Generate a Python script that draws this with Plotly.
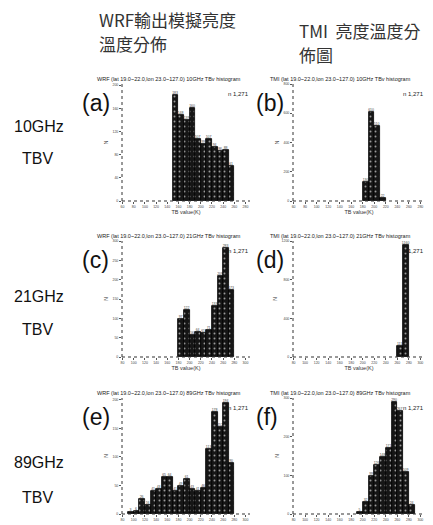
import plotly.graph_objects as go

W, H = 433, 525

# ---- histogram data: bin left edges (K) and pixel counts ----
BIN_WIDTH = 10

wrf10_edges = [150, 160, 170, 180, 190, 200, 210, 220, 230, 240, 250]
wrf10_counts = [183, 148, 139, 160, 107, 99, 107, 94, 86, 88, 61]

tmi10_edges = [180, 190, 200, 210]
tmi10_counts = [130, 610, 510, 22]

wrf21_edges = [180, 190, 200, 210, 220, 230, 240, 250, 260, 270]
wrf21_counts = [97, 122, 56, 64, 61, 71, 133, 209, 283, 173]

tmi21_edges = [260, 270]
tmi21_counts = [111, 1160]

wrf89_edges = [90, 100, 110, 120, 130, 140, 150, 160, 170, 180,
               190, 200, 210, 220, 230, 240, 250, 260, 270]
wrf89_counts = [3, 6, 26, 16, 41, 43, 65, 64, 41, 49,
                61, 43, 41, 46, 113, 178, 152, 194, 90]

tmi89_edges = [190, 200, 210, 220, 230, 240, 250, 260, 270, 280]
tmi89_counts = [5, 32, 99, 126, 148, 171, 290, 267, 109, 24]

sample_size = "n 1,271"
region = "(lat 19.0~22.0,lon 23.0~127.0)"

col_headers = [["WRF輸出模擬亮度", "溫度分佈"], ["TMI  亮度溫度分", "佈圖"]]
row_labels = [("10GHz", "TBV"), ("21GHz", "TBV"), ("89GHz", "TBV")]
bands = ["10GHz", "21GHz", "89GHz"]
letters = [["(a)", "(b)"], ["(c)", "(d)"], ["(e)", "(f)"]]

# per panel: edges, counts, y max, y tick step, x first tick
panels = [
    [(wrf10_edges, wrf10_counts, 202, 40, 60), (tmi10_edges, tmi10_counts, 800, 200, 60)],
    [(wrf21_edges, wrf21_counts, 300, 50, 80), (tmi21_edges, tmi21_counts, 1200, 400, 80)],
    [(wrf89_edges, wrf89_counts, 203, 50, 80), (tmi89_edges, tmi89_counts, 300, 100, 80)],
]

# plot-area geometry in pixels
col_x = [(122, 250), (293, 425)]
row_y = [(84, 201), (241, 357), (398, 514)]
X_STEP = 20
X_SPAN = 11.4

SMALL = "Liberation Sans, Arial, sans-serif"


def fx(px):
    return px / W


def fy(py):
    return 1 - py / H


fig = go.Figure()
annotations = []
shapes = []
layout = {}

k = 0
for r in range(3):
    for c in range(2):
        k += 1
        edges, counts, ymax, ydt, xt0 = panels[r][c]
        xa = "x" if k == 1 else f"x{k}"
        ya = "y" if k == 1 else f"y{k}"
        centers = [e + BIN_WIDTH / 2 for e in edges]
        fig.add_trace(go.Bar(
            x=centers, y=counts, width=BIN_WIDTH,
            xaxis=xa, yaxis=ya,
            marker=dict(
                color="#111111",
                line=dict(color="#000000", width=0.8),
                pattern=dict(shape=".", fgcolor="#9a9a9a", bgcolor="#161616",
                             size=5, solidity=0.12, fillmode="replace"),
            ),
            text=[str(v) for v in counts], textposition="outside",
            textfont=dict(size=3.5, color="#444", family=SMALL),
            cliponaxis=False, constraintext="none",
            showlegend=False, hoverinfo="x+y",
        ))
        x0, x1 = col_x[c]
        y0, y1 = row_y[r]
        # the bottom row's axis title falls below the page edge
        xtitle = "TB value(K)" if r < 2 else ""
        layout[f"xaxis{'' if k == 1 else k}"] = dict(
            domain=[fx(x0), fx(x1)], anchor=ya,
            range=[xt0 - 1, xt0 + X_SPAN * X_STEP],
            tick0=xt0, dtick=X_STEP, ticks="outside", ticklen=2, tickwidth=1,
            tickcolor="#555", showgrid=False, zeroline=False, showline=False,
            tickfont=dict(size=3.5, color="#444", family=SMALL),
            title=dict(text=xtitle, font=dict(size=5.5, color="#333", family=SMALL),
                       standoff=1),
            automargin=False,
        )
        layout[f"yaxis{'' if k == 1 else k}"] = dict(
            domain=[fy(y1), fy(y0)], anchor=xa,
            range=[0, ymax], tick0=0, dtick=ydt,
            ticks="outside", ticklen=2, tickwidth=1, tickcolor="#555",
            showgrid=False, zeroline=False, showline=False,
            tickfont=dict(size=3.5, color="#444", family=SMALL),
            title=dict(text="N", font=dict(size=5, color="#333", family=SMALL), standoff=3),
            automargin=False,
        )
        # dotted axis lines
        shapes.append(dict(type="line", xref=f"{xa} domain", yref=f"{ya} domain",
                           x0=0, x1=0, y0=0, y1=1,
                           line=dict(color="#333", width=1, dash="dot")))
        shapes.append(dict(type="line", xref=f"{xa} domain", yref=f"{ya} domain",
                           x0=0, x1=1, y0=0, y1=0,
                           line=dict(color="#333", width=1, dash="dot")))
        # panel title
        src = "WRF" if c == 0 else "TMI"
        tx = 95 if c == 0 else 268
        annotations.append(dict(
            text=f"{src} {region} {bands[r]} TBv histogram",
            x=fx(tx), y=fy(y0 - 5), xref="paper", yref="paper",
            xanchor="left", yanchor="middle", showarrow=False,
            font=dict(size=5.5, color="#222", family=SMALL)))
        # sample size
        annotations.append(dict(
            text=sample_size, x=fx(x1 + 1), y=fy(y0 + 10), xref="paper", yref="paper",
            xanchor="right", yanchor="middle", showarrow=False,
            font=dict(size=6, color="#222", family=SMALL)))
        # panel letter
        lx = 80 if c == 0 else 254
        annotations.append(dict(
            text=letters[r][c], x=fx(lx), y=fy(y0 + 19), xref="paper", yref="paper",
            xanchor="left", yanchor="middle", showarrow=False,
            font=dict(size=23, color="#111", family="Liberation Sans, Arial")))

# column headers
hdr = [(97, 20, 43), (297, 30, 55)]
for c in range(2):
    hx, hy1, hy2 = hdr[c]
    for line, hy in zip(col_headers[c], (hy1, hy2)):
        annotations.append(dict(
            text=line, x=fx(hx), y=fy(hy), xref="paper", yref="paper",
            xanchor="left", yanchor="middle", showarrow=False,
            font=dict(size=17, color="#333", family="Noto Sans CJK TC")))

# row labels
row_pos = [(127, 158), (296, 329), (462, 497)]
for (band, pol), (ya_, yb_) in zip(row_labels, row_pos):
    annotations.append(dict(text=band, x=fx(12), y=fy(ya_), xref="paper", yref="paper",
                            xanchor="left", yanchor="middle", showarrow=False,
                            font=dict(size=16, color="#111", family="Liberation Sans, Arial")))
    annotations.append(dict(text=pol, x=fx(20), y=fy(yb_), xref="paper", yref="paper",
                            xanchor="left", yanchor="middle", showarrow=False,
                            font=dict(size=16, color="#111", family="Liberation Sans, Arial")))

fig.update_layout(
    width=W, height=H, margin=dict(l=0, r=0, t=0, b=0),
    paper_bgcolor="white", plot_bgcolor="white",
    bargap=0, showlegend=False,
    annotations=annotations, shapes=shapes,
    **layout,
)

fig.write_html("out.html")
